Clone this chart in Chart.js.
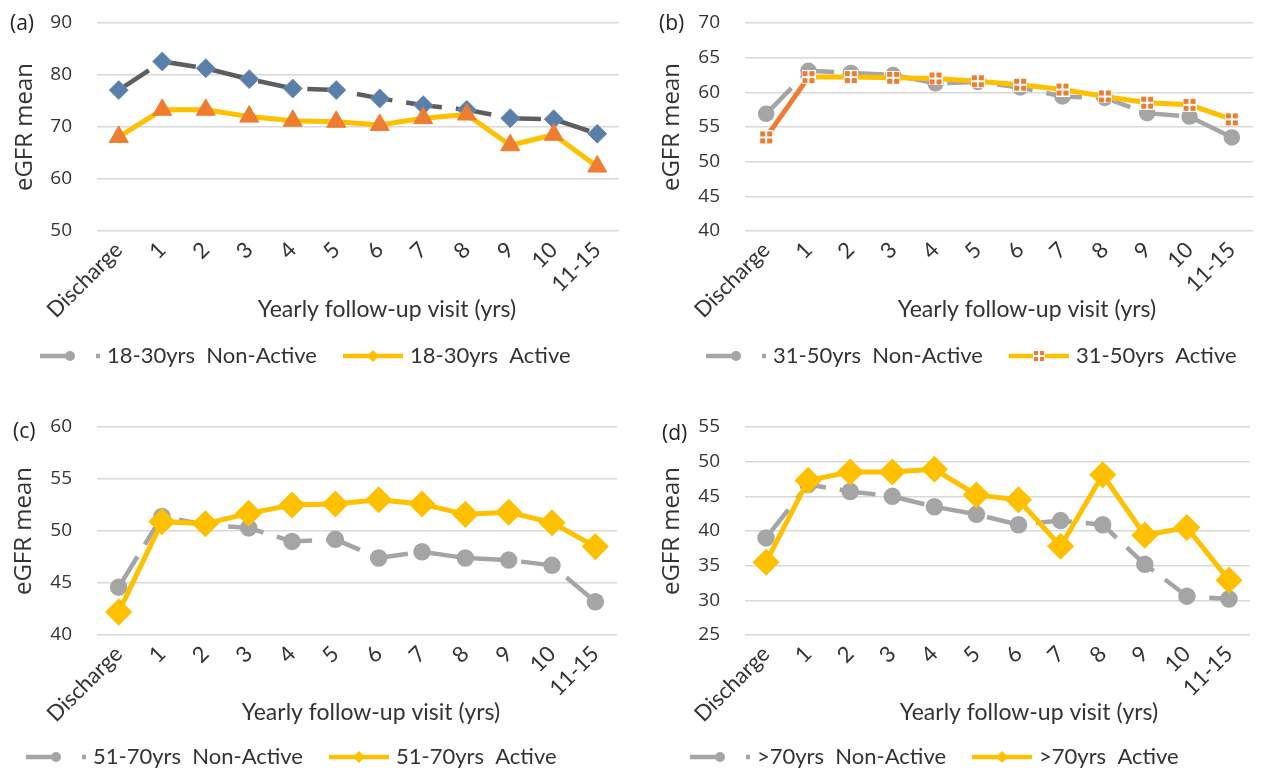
<!DOCTYPE html>
<html><head><meta charset="utf-8">
<script src="https://cdn.jsdelivr.net/npm/chart.js@4.4.1/dist/chart.umd.min.js"></script>
<style>
html,body{margin:0;padding:0;background:#fff;overflow:hidden;width:1265px;height:772px}
.panel{position:absolute}
.lab{position:absolute;font-family:'Open Sans';font-size:21px;color:#222;line-height:26px}
</style></head><body>
<div class="panel" style="left:0;top:0"><canvas id="ca" width="632" height="400"></canvas></div>
<div class="panel" style="left:632px;top:0"><canvas id="cb" width="633" height="400"></canvas></div>
<div class="panel" style="left:0;top:404px"><canvas id="cc" width="632" height="400"></canvas></div>
<div class="panel" style="left:632px;top:404px"><canvas id="cd" width="633" height="400"></canvas></div>
<div class="lab" style="left:10px;top:9px">(a)</div>
<div class="lab" style="left:659px;top:9px">(b)</div>
<div class="lab" style="left:13px;top:417px">(c)</div>
<div class="lab" style="left:662px;top:419px">(d)</div>
<script>
const categories = ['Discharge','1','2','3','4','5','6','7','8','9','10','11-15'];

const a_nonActive = [77.1, 82.6, 81.3, 79.2, 77.4, 77.1, 75.5, 74.2, 73.3, 71.7, 71.5, 68.7];
const a_active    = [68.1, 73.3, 73.3, 72.0, 71.2, 71.0, 70.4, 71.7, 72.4, 66.5, 68.5, 62.4];
const b_nonActive = [56.9, 63.1, 62.8, 62.5, 61.3, 61.5, 60.7, 59.4, 59.2, 57.0, 56.5, 53.5];
const b_active    = [53.5, 62.2, 62.2, 62.1, 62.0, 61.6, 61.1, 60.4, 59.4, 58.5, 58.2, 56.1];
const c_nonActive = [44.6, 51.4, 50.6, 50.3, 49.0, 49.2, 47.4, 48.0, 47.4, 47.2, 46.7, 43.2];
const c_active    = [42.2, 50.9, 50.7, 51.7, 52.5, 52.6, 53.0, 52.6, 51.6, 51.8, 50.8, 48.5];
const d_nonActive = [39.0, 46.7, 45.7, 45.0, 43.5, 42.4, 40.9, 41.5, 40.9, 35.2, 30.6, 30.2];
const d_active    = [35.5, 47.3, 48.5, 48.5, 48.9, 45.2, 44.5, 37.8, 48.1, 39.4, 40.5, 32.9];

const a_yTicks = [50, 60, 70, 80, 90];
const b_yTicks = [40, 45, 50, 55, 60, 65, 70];
const c_yTicks = [40, 45, 50, 55, 60];
const d_yTicks = [25, 30, 35, 40, 45, 50, 55];

const a_labels = ['18-30yrs  Non-Active', '18-30yrs  Active'];
const b_labels = ['31-50yrs  Non-Active', '31-50yrs  Active'];
const c_labels = ['51-70yrs  Non-Active', '51-70yrs  Active'];
const d_labels = ['>70yrs  Non-Active', '>70yrs  Active'];

const xTitle = 'Yearly follow-up visit (yrs)';
const yTitle = 'eGFR mean';

const GOLD = '#FFC000', ORANGE = '#ED7D31', LGRAY = '#A5A5A5', DGRAY = '#5E5E5E', BLUE = '#5A7FA8';
const TXT = '#333333';
const LEG_PAD = 30, LEG_FONT = 22;

function crossSquare(size) {
  const c = document.createElement('canvas');
  c.width = size; c.height = size;
  const g = c.getContext('2d');
  g.fillStyle = '#ffffff'; g.fillRect(0, 0, size, size);
  g.fillStyle = ORANGE;
  const h = (size - 4) / 2;
  g.fillRect(1, 1, h, h); g.fillRect(size - 1 - h, 1, h, h);
  g.fillRect(1, size - 1 - h, h, h); g.fillRect(size - 1 - h, size - 1 - h, h, h);
  return c;
}

function legendIcon(color, dashed, marker, mColor) {
  const c = document.createElement('canvas');
  c.width = 60; c.height = 18;
  const g = c.getContext('2d');
  g.strokeStyle = color; g.lineWidth = 4.5;
  if (dashed) g.setLineDash([34, 22]);
  g.beginPath(); g.moveTo(0, 9); g.lineTo(60, 9); g.stroke();
  g.setLineDash([]);
  g.fillStyle = mColor;
  if (marker === 'circle') { g.beginPath(); g.arc(30, 9, 5, 0, Math.PI * 2); g.fill(); }
  else if (marker === 'diamond') { g.beginPath(); g.moveTo(24, 9); g.lineTo(30, 3); g.lineTo(36, 9); g.lineTo(30, 15); g.closePath(); g.fill(); }
  else if (marker === 'cross') { g.drawImage(crossSquare(12), 24, 3); }
  return c;
}

// places the legend and draws the x-axis title where the reference has them
const panelExtras = {
  id: 'panelExtras',
  afterLayout(chart, args, opts) {
    const lg = chart.legend;
    const w = lg.right - lg.left, h = lg.bottom - lg.top;
    lg.left = opts.legendX + 4 - LEG_PAD;
    lg.right = lg.left + w;
    lg.top = opts.legendY - LEG_PAD - LEG_FONT / 2;
    lg.bottom = lg.top + h;
  },
  afterDraw(chart, args, opts) {
    const ctx = chart.ctx;
    ctx.save();
    ctx.font = '23px Lato';
    ctx.fillStyle = TXT;
    ctx.textAlign = 'center';
    ctx.textBaseline = 'middle';
    ctx.fillText(xTitle, opts.titleX, opts.titleY);
    ctx.restore();
  }
};

function makeChart(id, p) {
  const icons = p.icons;
  return new Chart(document.getElementById(id), {
    type: 'line',
    data: { labels: categories, datasets: p.datasets },
    plugins: [panelExtras],
    options: {
      responsive: false, animation: false,
      layout: { padding: { top: 23, right: p.right, bottom: 6, left: 0 } },
      elements: { line: { tension: 0 } },
      plugins: {
        tooltip: { enabled: false },
        panelExtras: { legendX: p.legendX, legendY: p.legendY, titleX: p.titleX, titleY: p.titleY },
        legend: {
          position: 'bottom', align: 'start',
          labels: {
            usePointStyle: true, pointStyleWidth: 52, padding: LEG_PAD,
            color: TXT, font: { family: 'Lato', size: LEG_FONT },
            generateLabels: (chart) => chart.data.datasets.map((ds, i) => ({
              text: ds.label, pointStyle: icons[i], fillStyle: 'rgba(0,0,0,0)',
              strokeStyle: 'rgba(0,0,0,0)', lineWidth: 0, hidden: false, datasetIndex: i, fontColor: TXT
            }))
          }
        }
      },
      scales: {
        x: {
          offset: true,
          grid: { display: false, drawTicks: false }, border: { display: false },
          ticks: { autoSkip: false, minRotation: 45, maxRotation: 45, padding: 6, color: TXT, font: { family: 'Lato', size: 22 } },
          title: { display: false, text: xTitle },
          afterFit: (s) => { s.height = 101; }
        },
        y: {
          min: p.yTicks[0], max: p.yTicks[p.yTicks.length - 1],
          ticks: { stepSize: p.yTicks[1] - p.yTicks[0], padding: 5, color: TXT, font: { family: 'Open Sans', size: 19 } },
          grid: { color: '#D9D9D9', lineWidth: 1.5, drawTicks: true, tickLength: 20, tickColor: 'rgba(0,0,0,0)' },
          border: { display: false },
          title: { display: true, text: yTitle, color: TXT, font: { family: 'Open Sans', size: 24 }, padding: { top: p.yTitlePad, bottom: 0 } },
          afterFit: (s) => { s.width = p.left; }
        }
      }
    }
  });
}

const DASH = [36, 14];

// (a)
makeChart('ca', {
  right: 13, left: 97, yTitlePad: 10.6, yTicks: a_yTicks,
  legendX: 40, legendY: 356, titleX: 387, titleY: 310,
  icons: [legendIcon(LGRAY, true, 'circle', LGRAY), legendIcon(GOLD, false, 'diamond', GOLD)],
  datasets: [
    { label: a_labels[0], data: a_nonActive, borderColor: DGRAY, borderWidth: 4.5, borderDash: DASH, order: 1,
      pointStyle: 'rectRot', pointRadius: 9.5, pointBackgroundColor: BLUE, pointBorderColor: '#6F93BA', pointBorderWidth: 1 },
    { label: a_labels[1], data: a_active, borderColor: GOLD, borderWidth: 5, order: 0,
      pointStyle: 'triangle', pointRadius: 11, pointBackgroundColor: ORANGE, pointBorderColor: ORANGE, pointBorderWidth: 1 }
  ]
});

// (b)
const crossImg = crossSquare(14);
makeChart('cb', {
  right: 0, left: 113, yTitlePad: 25.6, yTicks: b_yTicks,
  legendX: 74, legendY: 356, titleX: 395, titleY: 310,
  icons: [legendIcon(LGRAY, true, 'circle', LGRAY), legendIcon(GOLD, false, 'cross', ORANGE)],
  datasets: [
    { label: b_labels[0], data: b_nonActive, borderColor: LGRAY, borderWidth: 4.5, borderDash: DASH, order: 1,
      pointStyle: 'circle', pointRadius: 6, pointBackgroundColor: LGRAY, pointBorderColor: LGRAY },
    { label: b_labels[1], data: b_active, borderColor: GOLD, borderWidth: 5, order: 0,
      segment: { borderColor: (ctx) => ctx.p0DataIndex === 0 ? ORANGE : undefined },
      pointStyle: crossImg, pointRadius: 7 }
  ]
});

// (c)
makeChart('cc', {
  right: 13, left: 97, yTitlePad: 10, yTicks: c_yTicks,
  legendX: 26, legendY: 353, titleX: 371, titleY: 309,
  icons: [legendIcon(LGRAY, true, 'circle', LGRAY), legendIcon(GOLD, false, 'diamond', GOLD)],
  datasets: [
    { label: c_labels[0], data: c_nonActive, borderColor: LGRAY, borderWidth: 4.5, borderDash: DASH, order: 1,
      pointStyle: 'circle', pointRadius: 6.5, pointBackgroundColor: LGRAY, pointBorderColor: LGRAY },
    { label: c_labels[1], data: c_active, borderColor: GOLD, borderWidth: 5, order: 0,
      pointStyle: 'rectRot', pointRadius: 10, pointBackgroundColor: GOLD, pointBorderColor: GOLD }
  ]
});

// (d)
makeChart('cd', {
  right: 0, left: 113, yTitlePad: 25.6, yTicks: d_yTicks,
  legendX: 58, legendY: 353, titleX: 397, titleY: 309,
  icons: [legendIcon(LGRAY, true, 'circle', LGRAY), legendIcon(GOLD, false, 'diamond', GOLD)],
  datasets: [
    { label: d_labels[0], data: d_nonActive, borderColor: LGRAY, borderWidth: 4.5, borderDash: DASH, order: 1,
      pointStyle: 'circle', pointRadius: 6.5, pointBackgroundColor: LGRAY, pointBorderColor: LGRAY },
    { label: d_labels[1], data: d_active, borderColor: GOLD, borderWidth: 5, order: 0,
      pointStyle: 'rectRot', pointRadius: 10, pointBackgroundColor: GOLD, pointBorderColor: GOLD }
  ]
});
</script>
</body></html>
